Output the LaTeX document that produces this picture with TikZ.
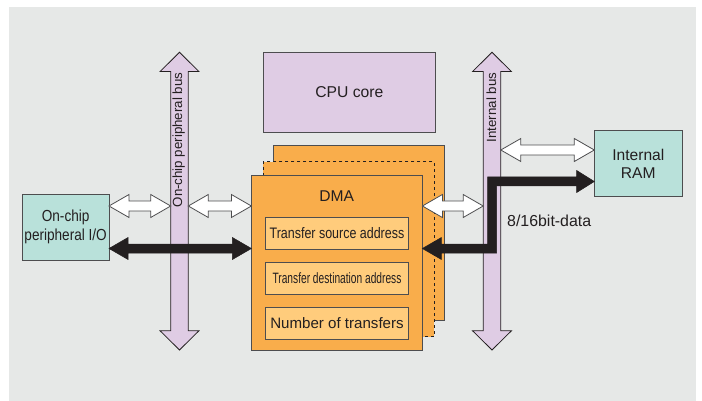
\documentclass[tikz,border=0pt]{standalone}
\usepackage{fontspec}
\setmainfont{Liberation Sans}
\usetikzlibrary{calc}
\definecolor{bgc}{HTML}{E6E8E7}
\definecolor{lav}{HTML}{DFCCE4}
\definecolor{teal}{HTML}{B9E1DA}
\definecolor{org}{HTML}{F9AD4B}
\definecolor{lorg}{HTML}{FFCC7C}
\definecolor{bord}{HTML}{4D4D4F}
\definecolor{ink}{HTML}{231F20}
\newcommand\sx[2]{\scalebox{#1}[1]{#2}}
% horizontal double block arrow: style, left tip, right tip, shaft half, head half, head length
\newcommand\hdarrow[6]{%
  \path[#1] let \p1=#2, \p2=#3 in
    (\x1,\y1) -- (\x1+#6pt,\y1+#5pt) -- (\x1+#6pt,\y1+#4pt) -- (\x2-#6pt,\y1+#4pt)
    -- (\x2-#6pt,\y1+#5pt) -- (\x2,\y1) -- (\x2-#6pt,\y1-#5pt) -- (\x2-#6pt,\y1-#4pt)
    -- (\x1+#6pt,\y1-#4pt) -- (\x1+#6pt,\y1-#5pt) -- cycle;}
% vertical double block arrow over a node's full height
\newcommand\vdarrow[2]{%
  \path[#2] let \p1=(#1.north), \p2=(#1.south) in
    (\x1,\y1) -- (\x1+19.5pt,\y1-19.3pt) -- (\x1+8.8pt,\y1-19.3pt) -- (\x1+8.8pt,\y2+19.3pt)
    -- (\x1+19.5pt,\y2+19.3pt) -- (\x1,\y2) -- (\x1-19.5pt,\y2+19.3pt) -- (\x1-8.8pt,\y2+19.3pt)
    -- (\x1-8.8pt,\y1-19.3pt) -- (\x1-19.5pt,\y1-19.3pt) -- cycle;}
\tikzset{
  box/.style={draw=bord, line width=0.9pt, inner sep=0pt, outer sep=0pt, anchor=north west},
  dmabox/.style={box, fill=org, minimum width=171pt, minimum height=175pt},
  regbox/.style={box, fill=lorg, minimum width=142.6pt, minimum height=31.7pt, text=ink},
  busnode/.style={minimum width=17.6pt, minimum height=297.7pt, inner sep=0pt, outer sep=0pt},
  busfill/.style={fill=lav, draw=ink, line width=0.8pt, line join=miter},
  whitearrow/.style={fill=white, draw=bord, line width=0.8pt, line join=miter},
  blackarrow/.style={fill=ink, draw=ink, line width=0.5pt, line join=miter},
  lbl/.style={text=ink, inner sep=0pt, align=center},
}
\begin{document}
\begin{tikzpicture}[x=1pt, y=-1pt]
\useasboundingbox (0,0) rectangle (702,401);
\fill[bgc] (8.5,7) rectangle (696,401);

% coordinates of rows
\coordinate (rw) at (0,206);
\coordinate (rb) at (0,248.5);
\coordinate (rr) at (0,150);
\coordinate (rt) at (0,181.5);

% DMA stack
\node[dmabox] (dmaback) at (273.3,145.7) {};
\node[dmabox, dashed, draw=ink] (dmadash) at (263.3,161.7) {};
\node[dmabox] (dma) at (251.4,175) {};
\node[lbl, font=\fontsize{15.6}{18}\selectfont] (dmat) at (336.7,195.7) {DMA};
\node[regbox] (src) at (265.7,217.3) {\fontsize{15.2}{18}\selectfont\sx{0.82}{Transfer source address}};
\node[regbox] (dst) at (265.7,262.3) {\fontsize{15}{18}\selectfont\sx{0.68}{Transfer destination address}};
\node[regbox] (num) at (265.7,307.7) {\fontsize{15.1}{18}\selectfont Number of transfers};

% CPU
\node[box, fill=lav, minimum width=171.3pt, minimum height=79.7pt] (cpu) at (263.7,52.3) {};
\node[lbl, font=\fontsize{15.7}{18}\selectfont] at (cpu.center) {CPU core};

% peripheral and RAM
\node[box, fill=teal, minimum width=86.7pt, minimum height=66pt] (io) at (22.3,194) {};
\node[lbl, font=\fontsize{16}{18.4}\selectfont] at (io.center) {\sx{0.85}{On-chip}\\\sx{0.85}{peripheral I/O}};
\node[box, fill=teal, minimum width=88pt, minimum height=65.3pt] (ram) at (594.3,130.7) {};
\node[lbl, font=\fontsize{15.6}{18}\selectfont] at (ram.center) {Internal\\RAM};

% buses
\node[busnode] (lbus) at (179.5,201.15) {};
\node[busnode] (ibus) at (492,201.15) {};
\vdarrow{lbus}{busfill}
\vdarrow{ibus}{busfill}
\node[lbl, font=\fontsize{13.3}{16}\selectfont, rotate=90, anchor=east] at (178.8,72.5) {On-chip peripheral bus};
\node[lbl, font=\fontsize{13.3}{16}\selectfont, rotate=90, anchor=east] at (491.3,72.5) {Internal bus};

% white arrows
\hdarrow{whitearrow}{(io.east |- rw)}{(lbus.west |- rw)}{5}{11.5}{20}
\hdarrow{whitearrow}{(lbus.east |- rw)}{(dma.west |- rw)}{5}{11.5}{20}
\hdarrow{whitearrow}{(dma.east |- rw)}{(ibus.west |- rw)}{5}{11.5}{20}
\hdarrow{whitearrow}{(ibus.east |- rr)}{(ram.west |- rr)}{5}{11.5}{20}

% black arrows
\hdarrow{blackarrow}{(io.east |- rb)}{(dma.west |- rb)}{4.5}{11}{19}
\path[blackarrow] let \p1=(dma.east |- rb), \p2=(ram.west |- rt), \p3=(ibus.center) in
  (\x1,\y1) -- (\x1+19pt,\y1+11pt) -- (\x1+19pt,\y1+4.5pt) -- (\x3-4.5pt,\y1+4.5pt)
  -- (\x3-4.5pt,\y2+4.5pt) -- (\x2-17.6pt,\y2+4.5pt) -- (\x2-17.6pt,\y2+11pt) -- (\x2,\y2)
  -- (\x2-17.6pt,\y2-11pt) -- (\x2-17.6pt,\y2-4.5pt) -- (\x3+4.5pt,\y2-4.5pt)
  -- (\x3+4.5pt,\y1-4.5pt) -- (\x1+19pt,\y1-4.5pt) -- (\x1+19pt,\y1-11pt) -- cycle;
\node[lbl, font=\fontsize{15.9}{18}\selectfont, anchor=west] (bits) at (507,221) {8/16bit-data};
\end{tikzpicture}
\end{document}
